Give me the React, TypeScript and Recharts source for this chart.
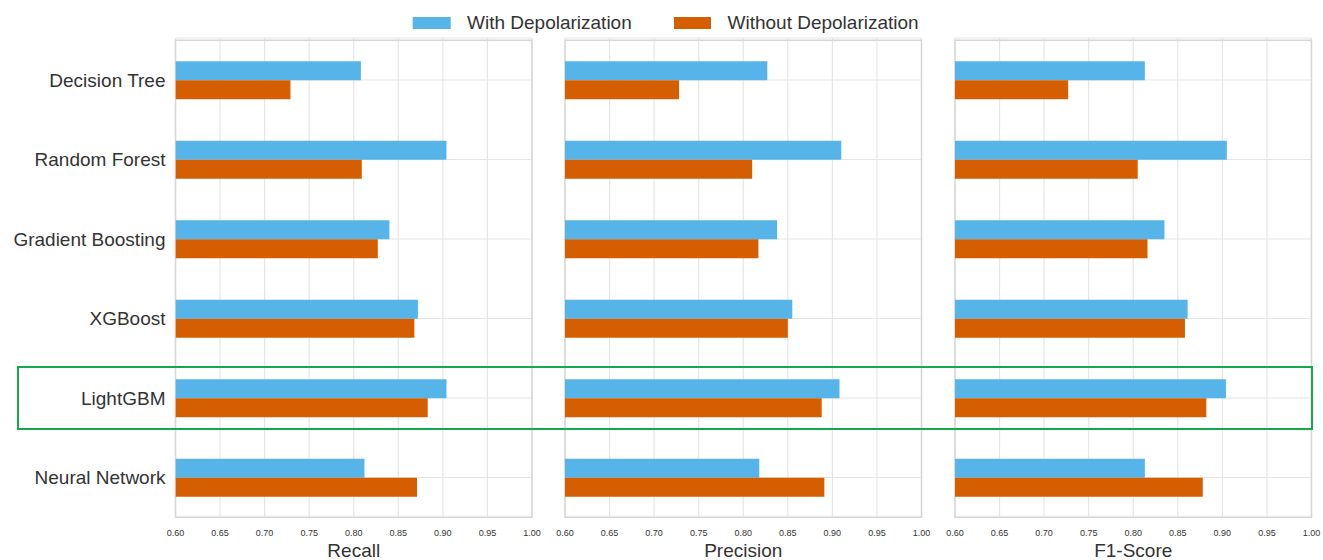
import { BarChart, Bar, XAxis, YAxis, CartesianGrid, ReferenceArea } from 'recharts';

const categories = ['Decision Tree', 'Random Forest', 'Gradient Boosting', 'XGBoost', 'LightGBM', 'Neural Network'];

const recallWith = [0.808, 0.904, 0.84, 0.872, 0.904, 0.812];
const recallWithout = [0.729, 0.809, 0.827, 0.868, 0.883, 0.871];
const precisionWith = [0.827, 0.91, 0.838, 0.855, 0.908, 0.818];
const precisionWithout = [0.728, 0.81, 0.817, 0.85, 0.888, 0.891];
const f1With = [0.813, 0.905, 0.835, 0.861, 0.904, 0.813];
const f1Without = [0.727, 0.805, 0.816, 0.858, 0.882, 0.878];

const xTicks = [0.6, 0.65, 0.7, 0.75, 0.8, 0.85, 0.9, 0.95, 1.0];

const BLUE = '#56B4E9';
const ORANGE = '#D55E00';
const TEXT = '#333';

interface PanelProps {
  title: string;
  withVals: number[];
  withoutVals: number[];
  left: number;
  width: number;
  marginLeft: number;
  marginRight: number;
  showLabels: boolean;
}

function Panel({ title, withVals, withoutVals, left, width, marginLeft, marginRight, showLabels }: PanelProps) {
  const data = categories.map((name, i) => ({ name, with: withVals[i], without: withoutVals[i] }));
  return (
    <div style={{ position: 'absolute', left, top: 0 }}>
      <BarChart
        width={width}
        height={560}
        data={data}
        layout="vertical"
        margin={{ top: 38, right: marginRight, bottom: 0, left: marginLeft }}
        barSize={19}
        barGap={0}
      >
        <CartesianGrid stroke="#e6e6e6" strokeWidth={1.2} />
        <XAxis
          type="number"
          domain={[0.6, 1]}
          ticks={xTicks}
          interval={0}
          allowDataOverflow
          tickFormatter={(v: number) => v.toFixed(2)}
          axisLine={false}
          tickLine={false}
          tickMargin={6}
          height={42.75}
          tick={{ fontSize: 9, fill: TEXT }}
          label={{ value: title, position: 'insideBottom', offset: 3, fontSize: 19, fill: TEXT }}
        />
        <YAxis
          type="category"
          dataKey="name"
          hide={!showLabels}
          width={showLabels ? 175.5 : 0}
          padding={{ top: 2.25, bottom: 0 }}
          interval={0}
          axisLine={false}
          tickLine={false}
          tickMargin={4}
          tick={{ fontSize: 19, fill: TEXT }}
        />
        <Bar dataKey="with" fill={BLUE} isAnimationActive={false} />
        <Bar dataKey="without" fill={ORANGE} isAnimationActive={false} />
        <ReferenceArea x1={0.6} x2={1} fill="none" stroke="#d6d6d6" strokeWidth={1.5} ifOverflow="visible" />
      </BarChart>
    </div>
  );
}

export default function App() {
  return (
    <div
      style={{
        position: 'absolute',
        left: 0,
        top: 0,
        width: 1323,
        height: 560,
        background: '#fff',
        fontFamily: '"Liberation Sans", Arial, sans-serif',
      }}
    >
      {/* legend */}
      <svg width={1323} height={40} style={{ position: 'absolute', left: 0, top: 0 }}>
        <rect x={412.7} y={17} width={38} height={12} fill={BLUE} />
        <text x={467} y={29} fontSize={19} fill={TEXT}>With Depolarization</text>
        <rect x={674} y={17} width={37} height={12} fill={ORANGE} />
        <text x={727.5} y={29} fontSize={19} fill={TEXT}>Without Depolarization</text>
      </svg>

      <Panel title="Recall" withVals={recallWith} withoutVals={recallWithout} left={0} width={552} marginLeft={0} marginRight={20} showLabels />
      <Panel title="Precision" withVals={precisionWith} withoutVals={precisionWithout} left={545} width={396.5} marginLeft={20} marginRight={20} showLabels={false} />
      <Panel title="F1-Score" withVals={f1With} withoutVals={f1Without} left={935} width={388} marginLeft={20} marginRight={11.5} showLabels={false} />

      {/* highlight box around LightGBM */}
      <div
        style={{
          position: 'absolute',
          left: 16.5,
          top: 366,
          width: 1296,
          height: 64,
          boxSizing: 'border-box',
          border: '2px solid #12a94f',
        }}
      />
    </div>
  );
}
